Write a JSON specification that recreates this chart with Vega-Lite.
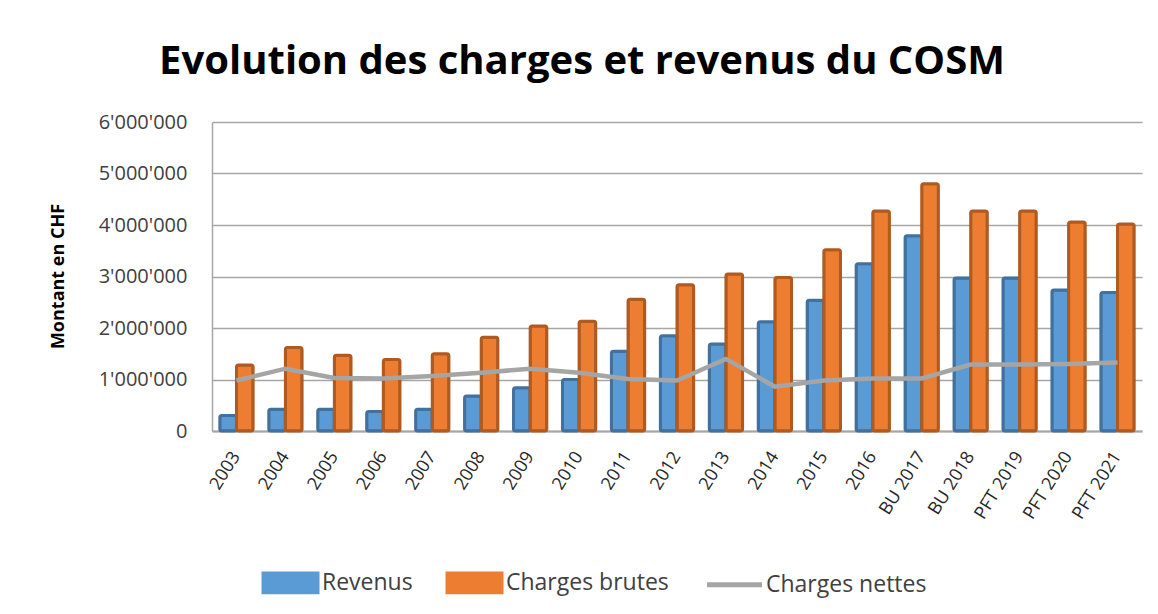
{
  "$schema": "https://vega.github.io/schema/vega-lite/v6.json",
  "autosize": {"type": "none"},
  "padding": {"left": 212, "top": 122, "right": 16, "bottom": 183},
  "width": 930,
  "height": 309,
  "background": "white",
  "title": {
    "text": "Evolution des charges et revenus du COSM",
    "font": "Open Sans",
    "fontSize": 40,
    "fontWeight": "bold",
    "color": "#000000",
    "anchor": "middle",
    "baseline": "alphabetic",
    "offset": 45,
    "dx": -95,
    "dy": 47
  },
  "data": {
    "values": [
      {"annee": "2003", "serie": "Revenus", "valeur": 300000},
      {"annee": "2003", "serie": "Charges brutes", "valeur": 1280000},
      {"annee": "2003", "serie": "Charges nettes", "valeur": 980000},
      {"annee": "2004", "serie": "Revenus", "valeur": 420000},
      {"annee": "2004", "serie": "Charges brutes", "valeur": 1620000},
      {"annee": "2004", "serie": "Charges nettes", "valeur": 1210000},
      {"annee": "2005", "serie": "Revenus", "valeur": 420000},
      {"annee": "2005", "serie": "Charges brutes", "valeur": 1470000},
      {"annee": "2005", "serie": "Charges nettes", "valeur": 1030000},
      {"annee": "2006", "serie": "Revenus", "valeur": 380000},
      {"annee": "2006", "serie": "Charges brutes", "valeur": 1390000},
      {"annee": "2006", "serie": "Charges nettes", "valeur": 1020000},
      {"annee": "2007", "serie": "Revenus", "valeur": 420000},
      {"annee": "2007", "serie": "Charges brutes", "valeur": 1500000},
      {"annee": "2007", "serie": "Charges nettes", "valeur": 1070000},
      {"annee": "2008", "serie": "Revenus", "valeur": 680000},
      {"annee": "2008", "serie": "Charges brutes", "valeur": 1820000},
      {"annee": "2008", "serie": "Charges nettes", "valeur": 1130000},
      {"annee": "2009", "serie": "Revenus", "valeur": 840000},
      {"annee": "2009", "serie": "Charges brutes", "valeur": 2040000},
      {"annee": "2009", "serie": "Charges nettes", "valeur": 1210000},
      {"annee": "2010", "serie": "Revenus", "valeur": 1000000},
      {"annee": "2010", "serie": "Charges brutes", "valeur": 2130000},
      {"annee": "2010", "serie": "Charges nettes", "valeur": 1130000},
      {"annee": "2011", "serie": "Revenus", "valeur": 1550000},
      {"annee": "2011", "serie": "Charges brutes", "valeur": 2560000},
      {"annee": "2011", "serie": "Charges nettes", "valeur": 1010000},
      {"annee": "2012", "serie": "Revenus", "valeur": 1850000},
      {"annee": "2012", "serie": "Charges brutes", "valeur": 2840000},
      {"annee": "2012", "serie": "Charges nettes", "valeur": 980000},
      {"annee": "2013", "serie": "Revenus", "valeur": 1690000},
      {"annee": "2013", "serie": "Charges brutes", "valeur": 3050000},
      {"annee": "2013", "serie": "Charges nettes", "valeur": 1400000},
      {"annee": "2014", "serie": "Revenus", "valeur": 2120000},
      {"annee": "2014", "serie": "Charges brutes", "valeur": 2980000},
      {"annee": "2014", "serie": "Charges nettes", "valeur": 860000},
      {"annee": "2015", "serie": "Revenus", "valeur": 2540000},
      {"annee": "2015", "serie": "Charges brutes", "valeur": 3520000},
      {"annee": "2015", "serie": "Charges nettes", "valeur": 980000},
      {"annee": "2016", "serie": "Revenus", "valeur": 3250000},
      {"annee": "2016", "serie": "Charges brutes", "valeur": 4270000},
      {"annee": "2016", "serie": "Charges nettes", "valeur": 1020000},
      {"annee": "BU 2017", "serie": "Revenus", "valeur": 3790000},
      {"annee": "BU 2017", "serie": "Charges brutes", "valeur": 4800000},
      {"annee": "BU 2017", "serie": "Charges nettes", "valeur": 1020000},
      {"annee": "BU 2018", "serie": "Revenus", "valeur": 2970000},
      {"annee": "BU 2018", "serie": "Charges brutes", "valeur": 4270000},
      {"annee": "BU 2018", "serie": "Charges nettes", "valeur": 1290000},
      {"annee": "PFT 2019", "serie": "Revenus", "valeur": 2970000},
      {"annee": "PFT 2019", "serie": "Charges brutes", "valeur": 4270000},
      {"annee": "PFT 2019", "serie": "Charges nettes", "valeur": 1290000},
      {"annee": "PFT 2020", "serie": "Revenus", "valeur": 2740000},
      {"annee": "PFT 2020", "serie": "Charges brutes", "valeur": 4060000},
      {"annee": "PFT 2020", "serie": "Charges nettes", "valeur": 1300000},
      {"annee": "PFT 2021", "serie": "Revenus", "valeur": 2690000},
      {"annee": "PFT 2021", "serie": "Charges brutes", "valeur": 4020000},
      {"annee": "PFT 2021", "serie": "Charges nettes", "valeur": 1330000}
    ]
  },
  "encoding": {
    "x": {
      "field": "annee",
      "type": "nominal",
      "sort": null,
      "scale": {"paddingInner": 0.32, "paddingOuter": 0.16},
      "axis": {
        "title": null,
        "labelAngle": -58,
        "labelFont": "Open Sans",
        "labelFontSize": 18,
        "labelColor": "#262626",
        "labelPadding": 22,
        "ticks": false,
        "domainColor": "#A6A6A6",
        "domainWidth": 2,
        "grid": false
      }
    },
    "y": {
      "field": "valeur",
      "type": "quantitative",
      "scale": {"domain": [0, 6000000], "nice": false},
      "axis": {
        "title": "Montant en CHF",
        "titleFont": "Open Sans",
        "titleFontSize": 18,
        "titleFontWeight": "bold",
        "titleColor": "#000000",
        "titleAngle": -90,
        "titleX": -154,
        "titleY": 154,
        "titleAlign": "center",
        "titleBaseline": "middle",
        "values": [0, 1000000, 2000000, 3000000, 4000000, 5000000, 6000000],
        "labelExpr": "replace(format(datum.value, ','), regexp(',', 'g'), \"'\")",
        "labelFont": "Open Sans",
        "labelFontSize": 20,
        "labelColor": "#404040",
        "labelPadding": 25,
        "ticks": false,
        "domainColor": "#A6A6A6",
        "domainWidth": 1.5,
        "grid": true,
        "gridColor": "#A6A6A6",
        "gridWidth": 1.3
      }
    }
  },
  "layer": [
    {
      "transform": [{"filter": "datum.serie !== 'Charges nettes'"}],
      "mark": {"type": "bar", "strokeWidth": 3, "cornerRadius": 2},
      "encoding": {
        "xOffset": {
          "field": "serie",
          "type": "nominal",
          "scale": {"domain": ["Revenus", "Charges brutes"], "paddingInner": 0}
        },
        "color": {
          "field": "serie",
          "type": "nominal",
          "scale": {
            "domain": ["Revenus", "Charges brutes", "Charges nettes"],
            "range": ["#5B9BD5", "#ED7D31", "#A5A5A5"]
          },
          "legend": {
            "title": null,
            "orient": "none",
            "direction": "horizontal",
            "legendX": 67,
            "legendY": 449,
            "labelFont": "Open Sans",
            "labelFontSize": 23,
            "labelColor": "#404040",
            "labelOffset": 20,
            "labelLimit": 400,
            "columnPadding": 28,
            "symbolSize": 3025,
            "symbolStrokeWidth": 3,
            "encode": {
              "symbols": {
                "enter": {
                  "stroke": {"signal": "datum.value === 'Revenus' ? '#41719C' : datum.value === 'Charges brutes' ? '#AE5A21' : '#A5A5A5'"},
                  "strokeWidth": {"signal": "datum.value === 'Charges nettes' ? 5 : 3"}
                },
                "update": {
                  "shape": {"signal": "datum.value === 'Charges nettes' ? 'stroke' : 'M-1,-0.36H1V0.36H-1Z'"},
                  "fill": {"signal": "datum.value === 'Revenus' ? '#5B9BD5' : datum.value === 'Charges brutes' ? '#ED7D31' : 'transparent'"},
                  "stroke": {"signal": "datum.value === 'Revenus' ? '#41719C' : datum.value === 'Charges brutes' ? '#AE5A21' : '#A5A5A5'"},
                  "strokeWidth": {"signal": "datum.value === 'Charges nettes' ? 5 : 3"},
                  "strokeOpacity": {"value": 1},
                  "opacity": {"value": 1}
                }
              }
            }
          }
        },
        "stroke": {
          "field": "serie",
          "type": "nominal",
          "scale": {"domain": ["Revenus", "Charges brutes"], "range": ["#41719C", "#AE5A21"]},
          "legend": null
        }
      }
    },
    {
      "transform": [{"filter": "datum.serie === 'Charges nettes'"}],
      "mark": {"type": "line", "strokeWidth": 4.5},
      "encoding": {
        "color": {"field": "serie", "type": "nominal"}
      }
    }
  ],
  "resolve": {"scale": {"stroke": "independent"}},
  "config": {
    "view": {"stroke": null}
  }
}
